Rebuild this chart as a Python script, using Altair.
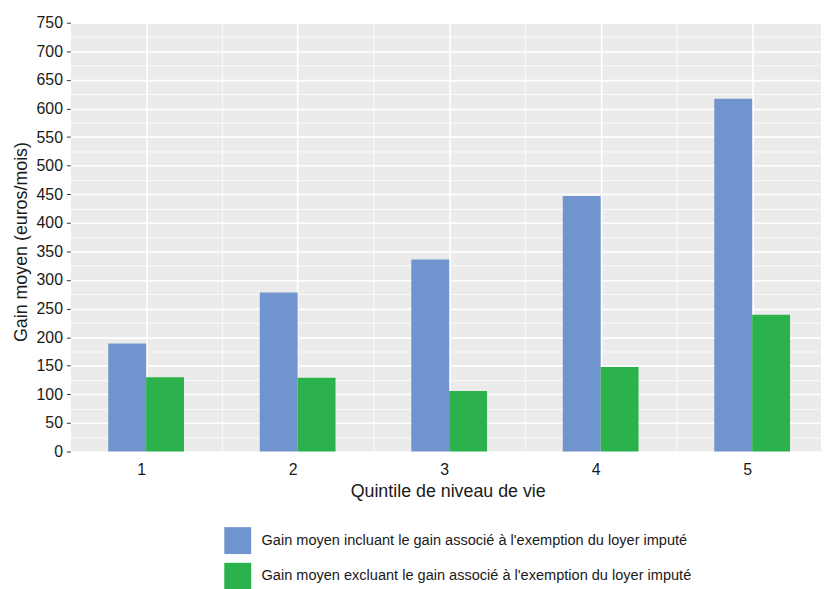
import altair as alt
import pandas as pd

quintiles = [1, 2, 3, 4, 5]
series = [
    "Gain moyen incluant le gain associé à l'exemption du loyer imputé",
    "Gain moyen excluant le gain associé à l'exemption du loyer imputé",
]
gain_incl = [189, 278, 336, 447, 617]
gain_excl = [130, 129, 106, 148, 239]
colors = ["#7094CE", "#2BB24C"]
y_major = list(range(0, 751, 50))
y_minor = list(range(25, 751, 50))
x_minor = [1.5, 2.5, 3.5, 4.5]

rows = []
for q, a, b in zip(quintiles, gain_incl, gain_excl):
    rows.append({"Quintile": q, "Série": series[0], "Gain": a, "k": 0})
    rows.append({"Quintile": q, "Série": series[1], "Gain": b, "k": 1})
df = pd.DataFrame(rows)

FONT = "Liberation Sans"
TXT = "#1a1a1a"
W = 758
STEP = 153.0
BARW = 0.25  # fraction of a category step per bar

xscale = alt.Scale(domain=[0.5, 0.5 + W / STEP], nice=False, zero=False)
yscale = alt.Scale(domain=[0, 750], nice=False, zero=True)

base = alt.Chart(df).transform_calculate(
    x0=f"datum.Quintile - {BARW} + {BARW} * datum.k",
    x1=f"datum.Quintile + {BARW} * datum.k",
)

minor = base.mark_bar(opacity=0).encode(
    x=alt.X(
        "x0:Q",
        scale=xscale,
        axis=alt.Axis(
            orient="top", values=x_minor, labels=False, ticks=False,
            domain=False, title=None, grid=True, gridColor="white", gridWidth=0.8,
        ),
    ),
    x2="x1:Q",
    y=alt.Y(
        "Gain:Q",
        scale=yscale,
        axis=alt.Axis(
            orient="right", values=y_minor, labels=False, ticks=False,
            domain=False, title=None, grid=True, gridColor="white", gridWidth=0.8,
        ),
    ),
    y2=alt.datum(0),
)

bars = base.mark_bar().encode(
    x=alt.X(
        "x0:Q",
        scale=xscale,
        axis=alt.Axis(
            title="Quintile de niveau de vie", values=quintiles, format="d",
            tickSize=0, domain=False, grid=True, gridColor="white",
            gridWidth=1.6, labelPadding=10, labelOffset=-5, labelFontSize=16,
            labelColor=TXT, labelFont=FONT, titleFont=FONT, titleFontSize=18,
            titleFontWeight="normal", titleColor=TXT, titlePadding=5,
            titleX=381, titleAnchor="middle", labelFlush=False,
        ),
    ),
    x2="x1:Q",
    y=alt.Y(
        "Gain:Q",
        scale=yscale,
        axis=alt.Axis(
            title="Gain moyen (euros/mois)", values=y_major, tickSize=4,
            tickColor="#333333", domain=False, grid=True, gridColor="white",
            gridWidth=1.6, labelPadding=4, labelFontSize=16, labelColor=TXT,
            labelFont=FONT, titleFont=FONT, titleFontSize=18,
            titleFontWeight="normal", titleColor=TXT, titlePadding=6,
            titleY=221, labelFlush=False,
        ),
    ),
    y2=alt.datum(0),
    color=alt.Color(
        "Série:N",
        sort=series,
        scale=alt.Scale(domain=series, range=colors),
        legend=alt.Legend(
            title=None, orient="none", legendX=155, legendY=509,
            direction="vertical", symbolType="square", symbolSize=740,
            symbolStrokeWidth=0, symbolOpacity=1, labelFontSize=14.7,
            labelFont=FONT, labelColor=TXT, labelOffset=10, rowPadding=8,
            padding=0, labelLimit=700,
        ),
    ),
)

chart = (
    alt.layer(minor, bars)
    .resolve_axis(x="independent", y="independent")
    .properties(
        width=W,
        height=433,
        autosize=alt.AutoSizeParams(type="none"),
        padding={"left": 63, "top": 12, "right": 0, "bottom": 136},
        background="white",
    )
    .configure_view(fill="#EBEBEB", stroke="transparent")
)

chart.save("out.html", embed_options={"renderer": "svg", "actions": False})
